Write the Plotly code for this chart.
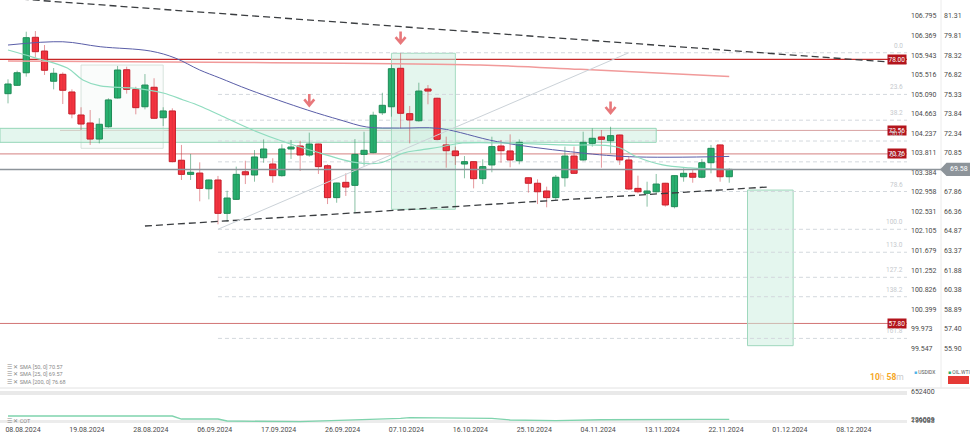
import plotly.graph_objects as go

W, H = 970, 437

# ---------------- data ----------------
DATE_LABELS = ["08.08.2024", "19.08.2024", "28.08.2024", "06.09.2024", "17.09.2024",
               "26.09.2024", "07.10.2024", "16.10.2024", "25.10.2024", "04.11.2024",
               "13.11.2024", "22.11.2024", "01.12.2024", "08.12.2024"]
DATE_LABEL_BARS = [0, 7, 14, 21, 28, 35, 42, 49, 56, 63, 70, 77, 84, 91]

OPEN = [75.37, 76.01, 76.97, 79.68, 78.63, 76.32, 76.85, 75.50, 73.74, 73.13,
        71.90, 72.84, 75.04, 77.20, 75.70, 74.37, 75.86, 73.53, 74.05, 70.28,
        69.20, 69.30, 68.10, 68.77, 66.22, 67.29, 69.40, 69.15, 70.47, 69.99,
        69.10, 71.14, 71.37, 70.68, 71.52, 69.86, 67.42, 68.59, 68.36, 70.73,
        70.86, 73.91, 74.37, 77.31, 73.84, 73.30, 75.73, 75.02, 71.45, 70.99,
        69.99, 70.17, 68.87, 69.92, 71.37, 70.99, 70.24, 68.94, 68.52, 67.93,
        67.42, 68.94, 70.60, 70.30, 71.57, 72.06, 71.77, 72.21, 70.30, 68.13,
        67.75, 67.87, 68.52, 66.73, 69.02, 69.28, 68.98, 70.09, 71.45, 69.02]
HIGH = [76.47, 77.13, 80.11, 80.16, 79.09, 77.33, 77.00, 75.70, 74.33, 74.12,
        73.49, 75.02, 77.49, 77.43, 75.90, 76.87, 76.55, 74.33, 74.25, 71.45,
        70.76, 70.12, 68.80, 69.08, 67.95, 69.79, 70.24, 71.06, 71.88, 70.43,
        71.50, 71.83, 71.77, 72.39, 71.55, 69.97, 68.56, 69.28, 71.90, 72.46,
        73.99, 75.44, 77.69, 78.46, 74.43, 76.21, 76.03, 75.06, 72.08, 71.32,
        70.60, 70.20, 70.35, 72.08, 71.83, 72.26, 71.88, 68.97, 68.82, 68.26,
        69.15, 71.32, 71.32, 72.46, 72.72, 72.59, 72.84, 72.24, 70.60, 69.10,
        68.64, 69.23, 68.55, 69.12, 69.66, 69.59, 70.38, 71.45, 71.48, 69.66]
LOW = [74.63, 75.96, 76.67, 78.15, 76.80, 75.70, 74.58, 73.49, 72.59, 71.45,
       71.57, 72.77, 75.00, 75.37, 73.79, 74.17, 73.43, 72.90, 70.12, 68.77,
       68.77, 67.14, 67.29, 65.38, 65.58, 67.24, 68.46, 68.64, 70.09, 68.56,
       69.02, 70.38, 69.46, 70.55, 69.23, 66.93, 67.03, 67.55, 66.22, 69.86,
       70.81, 73.74, 73.61, 72.72, 71.57, 73.23, 74.56, 71.80, 69.71, 69.92,
       68.90, 68.13, 68.46, 69.36, 70.09, 69.74, 69.97, 67.80, 66.93, 66.68,
       67.24, 68.26, 69.23, 70.24, 71.32, 69.71, 70.81, 69.92, 68.00, 67.75,
       66.73, 67.75, 66.73, 66.60, 68.64, 68.56, 68.90, 69.28, 68.64, 68.56]
CLOSE = [76.11, 76.97, 79.65, 78.58, 77.16, 76.93, 75.63, 73.82, 73.05, 71.90,
         73.03, 74.89, 77.18, 75.70, 74.30, 76.03, 73.49, 74.05, 70.17, 69.20,
         69.36, 68.13, 68.77, 66.22, 67.39, 69.20, 69.17, 70.53, 71.14, 69.10,
         71.14, 71.29, 70.68, 71.52, 69.79, 67.42, 68.54, 68.23, 70.73, 71.04,
         73.72, 74.48, 77.28, 73.87, 73.36, 75.57, 75.57, 71.88, 71.01, 70.63,
         70.17, 68.87, 69.79, 71.32, 71.01, 70.30, 71.65, 68.52, 67.87, 67.42,
         68.98, 70.60, 69.28, 71.65, 71.96, 71.88, 72.16, 70.30, 68.08, 67.87,
         67.93, 68.46, 66.86, 69.10, 69.28, 68.98, 70.09, 71.19, 69.02, 69.58]

# moving averages (read at sampled bars)
SMA25_X = [0, 2.7, 6.5, 8.2, 10.1, 13.7, 17.0, 19.2, 21.0, 23.2, 26.8, 30.6, 34.2,
           37.8, 40.7, 43.3, 45.1, 47.3, 49.8, 60.8, 66.7, 68.9, 71.7, 74.7, 79]
SMA25_Y = [78.71, 78.17, 77.33, 76.42, 75.96, 75.80, 75.42, 74.89, 74.43, 73.74,
           72.59, 71.60, 70.83, 70.14, 70.07, 70.83, 71.06, 71.29, 71.60, 71.45,
           71.29, 70.53, 69.92, 69.69, 69.57]
SMA50_X = [0, 6.0, 10.1, 15.6, 18.3, 21.0, 23.2, 26.5, 32.8, 36.4, 39.3, 42.9,
           47.3, 53.6, 61.6, 68.1, 79]
SMA50_Y = [79.09, 79.34, 78.96, 78.63, 78.10, 77.18, 76.57, 75.65, 74.12, 73.36,
           72.82, 72.74, 72.71, 71.70, 70.93, 70.55, 70.57]
SMA200_X = [0, 26.5, 51.7, 62.7, 79]
SMA200_Y = [77.87, 77.75, 77.56, 77.23, 76.68]

# COT indicator
COT_X = [0, 18, 19, 23, 24, 32, 43, 44, 53, 55, 60, 65, 76, 79]
COT_Y = [277000, 277000, 230000, 230000, 199000, 188000, 240000, 251000, 241000,
         215000, 204000, 219000, 226000, 226009]
COT_TICKS = [652400, 226009, 199088]

# axis tick labels
PRICE_TICKS = [81.31, 79.81, 78.32, 76.82, 75.33, 73.84, 72.34, 70.85, 67.86,
               66.36, 64.87, 63.37, 61.88, 60.38, 58.89, 57.40, 55.90]
USD_TICKS = [106.795, 106.369, 105.943, 105.516, 105.090, 104.663, 104.237, 103.811,
             103.384, 102.958, 102.531, 102.105, 101.679, 101.252, 100.826, 100.399,
             99.973, 99.547]

LEVELS = [78.00, 72.56, 70.76, 57.80]
LAST_PRICE = 69.58

FIB_HIGH, FIB_LOW = 78.50, 65.00
FIB_RATIOS = [0.0, 23.6, 38.2, 50.0, 61.8, 78.6, 100.0, 113.0, 127.2, 138.2, 161.8]
FIB_START_BAR, FIB_END_BAR = 23, 68

UPPER_TREND_X = [-0.9, 98.47]
UPPER_TREND_Y = [82.72, 77.69]
LOWER_TREND_X = [15.0, 83.1]
LOWER_TREND_Y = [65.25, 68.23]

ARROW_BARS = [33, 43, 66]
ARROW_PRICES = [74.89, 79.66, 74.31]

# zones: (bar0, bar1, price_lo, price_hi)
ZONE_GREY = (8, 17, 71.19, 77.56)
ZONE_BAND = (-0.876, 71, 71.65, 72.72)
ZONE_OCT = (42, 49, 66.53, 78.46)
ZONE_TARGET = (81, 86, 56.10, 68.00)

# ---------------- geometry ----------------
X_MIN, X_MAX = -0.876, 98.47
Y_MIN, Y_MAX = 52.864, 82.533
U_MIN, U_MAX = 98.681, 107.144
C_MIN, C_MAX = 152194, 714926
PLOT_R = 907 / W
MAIN_BOTTOM = 388
COT_BOTTOM = 424


def px(x):
    return x / W


def py(y):
    return 1 - y / H


FONT = "Roboto, 'Open Sans', sans-serif"
GREEN_FILL, GREEN_LINE, GREEN_WICK = "#27b06f", "#1e8a56", "rgba(40,140,90,0.55)"
RED_FILL, RED_LINE, RED_WICK = "#f5333f", "#c41d29", "rgba(205,50,60,0.5)"

fig = go.Figure()

# wicks
for up, col in [(True, GREEN_WICK), (False, RED_WICK)]:
    xs, ys = [], []
    for i in range(len(OPEN)):
        if (CLOSE[i] >= OPEN[i]) == up:
            xs += [i, i, None]
            ys += [LOW[i], HIGH[i], None]
    fig.add_trace(go.Scatter(x=xs, y=ys, mode="lines", line=dict(color=col, width=1),
                             hoverinfo="skip", showlegend=False))

# bodies
for up, fc, lc in [(True, GREEN_FILL, GREEN_LINE), (False, RED_FILL, RED_LINE)]:
    xs, bs, hs = [], [], []
    for i in range(len(OPEN)):
        if (CLOSE[i] >= OPEN[i]) == up:
            xs.append(i)
            bs.append(min(OPEN[i], CLOSE[i]))
            hs.append(max(abs(CLOSE[i] - OPEN[i]), 0.08))
    fig.add_trace(go.Bar(x=xs, y=hs, base=bs, width=0.68,
                         marker=dict(color=fc, line=dict(color=lc, width=1)),
                         hoverinfo="skip", showlegend=False))

# moving averages
fig.add_trace(go.Scatter(x=SMA200_X, y=SMA200_Y, mode="lines", line=dict(color="#f19a9a", width=1.5, shape="spline"),
                         hoverinfo="skip", showlegend=False))
fig.add_trace(go.Scatter(x=SMA50_X, y=SMA50_Y, mode="lines", line=dict(color="#5a5ea8", width=1, shape="spline"),
                         hoverinfo="skip", showlegend=False))
fig.add_trace(go.Scatter(x=SMA25_X, y=SMA25_Y, mode="lines", line=dict(color="#8fdcbf", width=1.2, shape="spline"),
                         hoverinfo="skip", showlegend=False))

# trend lines
fig.add_trace(go.Scatter(x=UPPER_TREND_X, y=UPPER_TREND_Y, mode="lines",
                         line=dict(color="#3a3d40", width=1.3, dash="7px,4px"), hoverinfo="skip", showlegend=False))
fig.add_trace(go.Scatter(x=LOWER_TREND_X, y=LOWER_TREND_Y, mode="lines",
                         line=dict(color="#3a3d40", width=1.3, dash="7px,4px"), hoverinfo="skip", showlegend=False))
# fib connector
fig.add_trace(go.Scatter(x=[FIB_START_BAR, FIB_END_BAR], y=[FIB_LOW, FIB_HIGH], mode="lines",
                         line=dict(color="#cbd2d8", width=1), hoverinfo="skip", showlegend=False))

# USDIDX axis holder
fig.add_trace(go.Scatter(x=[None], y=[None], yaxis="y2", showlegend=False, hoverinfo="skip"))

# COT
fig.add_trace(go.Scatter(x=COT_X, y=COT_Y, yaxis="y3", mode="lines", line=dict(color="#7fd3ad", width=1.3),
                         hoverinfo="skip", showlegend=False))

shapes = []
ann = []

# bottom/panel separators
shapes.append(dict(type="line", xref="paper", yref="paper", x0=0, x1=1, y0=py(388), y1=py(388),
                   line=dict(color="#e2e2e2", width=1)))
shapes.append(dict(type="rect", xref="paper", yref="paper", x0=0, x1=PLOT_R, y0=py(395), y1=py(391),
                   fillcolor="#e9e9e9", line=dict(width=0)))
shapes.append(dict(type="rect", xref="paper", yref="paper", x0=0, x1=PLOT_R, y0=py(423), y1=py(420),
                   fillcolor="#ececec", line=dict(width=0), layer="below"))
shapes.append(dict(type="line", xref="paper", yref="paper", x0=px(941), x1=px(941), y0=py(0), y1=py(388),
                   line=dict(color="#ececec", width=1)))

# zones
for z, fill, line in [(ZONE_GREY, "rgba(240,245,242,0.3)", "rgba(200,215,207,0.7)"),
                      (ZONE_BAND, "rgba(205,238,224,0.55)", "#95d6b7"),
                      (ZONE_OCT, "rgba(205,238,224,0.55)", "#a5dbc2"),
                      (ZONE_TARGET, "rgba(205,238,224,0.55)", "#9fd8bd")]:
    shapes.append(dict(type="rect", xref="x", yref="y", x0=z[0], x1=z[1], y0=z[2], y1=z[3],
                       fillcolor=fill, line=dict(color=line, width=1), layer="below"))

# fib levels
for r in FIB_RATIOS:
    p = FIB_HIGH - r / 100 * (FIB_HIGH - FIB_LOW)
    shapes.append(dict(type="line", xref="x", yref="y", x0=FIB_START_BAR, x1=X_MAX, y0=p, y1=p,
                       line=dict(color="#d3d8dd", width=1, dash="4px,3px"), layer="below"))

# horizontal levels
level_styles = {78.00: ("#c62828", 1.2, 0), 72.56: ("#d8a2a2", 1, px(60)),
                70.76: ("#dd9a9a", 1.3, 0), 57.80: ("#d27474", 1, 0)}
for lv in LEVELS:
    c, w, x0 = level_styles[lv]
    shapes.append(dict(type="line", xref="paper", yref="y", x0=x0, x1=PLOT_R, y0=lv, y1=lv,
                       line=dict(color=c, width=w), layer="below"))

# last price line and label
shapes.append(dict(type="line", xref="paper", yref="y", x0=0, x1=px(941), y0=LAST_PRICE, y1=LAST_PRICE,
                   line=dict(color="#8d949a", width=1.5)))
hh = 0.51
shapes.append(dict(type="path", xref="paper", yref="y",
                   path=f"M {px(940)} {LAST_PRICE} L {px(946.5)} {LAST_PRICE + hh} L 1 {LAST_PRICE + hh} "
                        f"L 1 {LAST_PRICE - hh} L {px(946.5)} {LAST_PRICE - hh} Z",
                   fillcolor="#8d949a", line=dict(width=0)))
ann.append(dict(xref="paper", yref="y", x=px(958.5), y=LAST_PRICE, text=f"{LAST_PRICE:.2f}", showarrow=False,
                font=dict(family=FONT, size=7, color="white"), xanchor="center", yanchor="middle"))

# arrows
for b, p in zip(ARROW_BARS, ARROW_PRICES):
    shapes.append(dict(type="path", xref="x", yref="y", xsizemode="pixel", ysizemode="pixel",
                       xanchor=b, yanchor=p,
                       path="M 0 6 L 0 -5 M -5 0.5 L 0 -5.5 L 5 0.5",
                       line=dict(color="#e8787b", width=2.6)))

# red pill
shapes.append(dict(type="rect", xref="paper", yref="paper", x0=px(948), x1=px(969), y0=py(384), y1=py(376),
                   fillcolor="#e53935", line=dict(width=0)))

# level labels
for lv in LEVELS:
    ann.append(dict(xref="paper", yref="y", x=px(906.7), y=lv, text=f"{lv:.2f}", showarrow=False,
                    xanchor="right", yanchor="middle", bgcolor="#b3141c", borderpad=0.5,
                    font=dict(family=FONT, size=6.5, color="white")))
# fib labels
for r in FIB_RATIOS:
    p = FIB_HIGH - r / 100 * (FIB_HIGH - FIB_LOW)
    ann.append(dict(xref="paper", yref="y", x=px(905), y=p, text=f"{r:.1f}", showarrow=False,
                    xanchor="right", yanchor="bottom", yshift=1,
                    font=dict(family=FONT, size=6.5, color="#c5c9cd")))

# legend rows
for i, t in enumerate(["SMA [50, 0] 70.57", "SMA [25, 0] 69.57", "SMA [200, 0] 76.68"]):
    ann.append(dict(xref="paper", yref="paper", x=px(5), y=py(367 + 7.3 * i), text="☰ ✕ " + t,
                    showarrow=False, xanchor="left", yanchor="middle",
                    font=dict(family=FONT, size=5.5, color="#8a8a8a")))
ann.append(dict(xref="paper", yref="paper", x=px(5), y=py(421), text="☰ ✕ COT",
                showarrow=False, xanchor="left", yanchor="middle",
                font=dict(family=FONT, size=5.5, color="#8a8a8a")))

ann.append(dict(xref="paper", yref="paper", x=px(906), y=py(377),
                text="<b>10</b><span style='color:#f8c98c'>h</span> <b>58</b><span style='color:#c9c9c9'>m</span>",
                showarrow=False, xanchor="right", yanchor="middle",
                font=dict(family=FONT, size=8.5, color="#f5a623")))
ann.append(dict(xref="paper", yref="paper", x=px(912), y=py(372),
                text="<span style='color:#4fb3e8'>■</span> USDIDX", showarrow=False, xanchor="left", yanchor="middle",
                font=dict(family=FONT, size=5, color="#555")))
ann.append(dict(xref="paper", yref="paper", x=px(946), y=py(372),
                text="<span style='color:#27b06f'>■</span> OIL.WTI", showarrow=False, xanchor="left", yanchor="middle",
                font=dict(family=FONT, size=5, color="#555")))

tickfont = dict(family=FONT, size=7, color="#4a4a4a")
fig.update_layout(
    width=W, height=H, margin=dict(l=0, r=0, t=0, b=0),
    paper_bgcolor="white", plot_bgcolor="white",
    showlegend=False, barmode="overlay", hovermode=False,
    xaxis=dict(domain=[0, PLOT_R], range=[X_MIN, X_MAX], anchor="y3", showgrid=False, zeroline=False,
               showline=False, ticks="", tickvals=DATE_LABEL_BARS, ticktext=DATE_LABELS,
               tickfont=tickfont, ticklabelshift=15, fixedrange=True),
    yaxis=dict(domain=[py(MAIN_BOTTOM), 1], range=[Y_MIN, Y_MAX], anchor="free", position=px(943),
               side="right", showgrid=False, zeroline=False, showline=False, ticks="",
               tickvals=PRICE_TICKS, ticktext=[f"{v:.2f}" for v in PRICE_TICKS], tickfont=tickfont),
    yaxis2=dict(overlaying="y", range=[U_MIN, U_MAX], anchor="free", position=px(910), side="right",
                showgrid=False, zeroline=False, showline=False, ticks="",
                tickvals=USD_TICKS, ticktext=[f"{v:.3f}" for v in USD_TICKS], tickfont=tickfont),
    yaxis3=dict(domain=[py(COT_BOTTOM), py(MAIN_BOTTOM)], range=[C_MIN, C_MAX], anchor="free",
                position=px(910), side="right", showgrid=False, zeroline=False, showline=False, ticks="",
                tickvals=COT_TICKS, ticktext=[str(v) for v in COT_TICKS], tickfont=tickfont),
    shapes=shapes, annotations=ann,
)

fig.write_html("out.html", config={"displayModeBar": False},
               post_script="document.body.style.margin='0px';document.body.style.overflow='hidden';")
